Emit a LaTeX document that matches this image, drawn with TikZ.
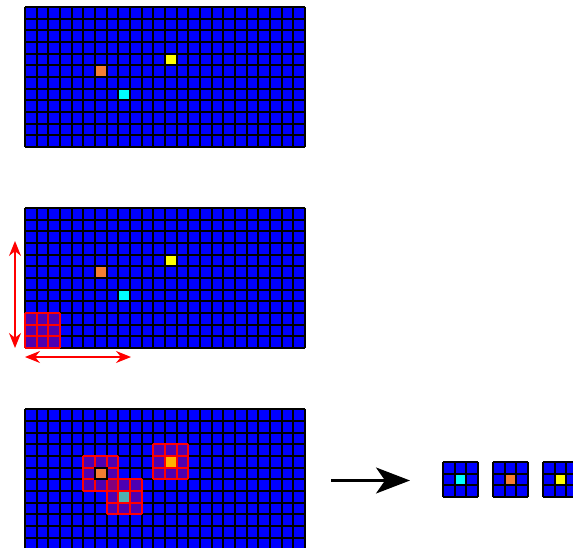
\documentclass[tikz,border=0pt]{standalone}
\usetikzlibrary{arrows.meta}
\definecolor{cellblue}{RGB}{0,0,255}
\definecolor{cellorange}{RGB}{245,125,50}
\definecolor{cellcyan}{RGB}{0,255,255}
\definecolor{cellyellow}{RGB}{255,255,0}
\tikzset{
  gridline/.style={black,line width=2pt},
  cellbox/.style={draw=black,line width=2pt},
  overlaybox/.style={fill=red,fill opacity=0.3},
  overlayline/.style={red,line width=2pt},
  redarrow/.style={red,line width=1.3pt,{Stealth[length=15pt,width=12pt]}-{Stealth[length=15pt,width=12pt]}},
  bigarrow/.style={black,line width=2.5pt,-{Stealth[length=34pt,width=26pt,inset=9pt]}}
}
\newcommand\drawgrid[2]{%
  \fill[cellblue] (0,0) rectangle (#1,#2);
  \foreach \i in {0,...,#1} \draw[gridline] (\i,0) -- (\i,#2);
  \foreach \j in {0,...,#2} \draw[gridline] (0,\j) -- (#1,\j);
}
\newcommand\drawcell[3]{\fill[#3,cellbox] (#1,#2) rectangle ++(1,1);}
\newcommand\drawoverlay[2]{%
  \fill[overlaybox] (#1,#2) rectangle ++(3,3);
  \foreach \k in {0,...,3} {\draw[overlayline] (#1+\k,#2) -- ++(0,3); \draw[overlayline] (#1,#2+\k) -- ++(3,0);}
}
\begin{document}
\begin{tikzpicture}[x=1pt,y=-1pt]
\useasboundingbox (0,0) rectangle (573,548);
\fill[white] (0,0) rectangle (573,548);
% grid 1
\begin{scope}[shift={(25pt,-7pt)},x=11.667pt,y=-11.667pt]
  \drawgrid{24}{12}
  \drawcell{6}{5}{cellorange}
  \drawcell{8}{7}{cellcyan}
  \drawcell{12}{4}{cellyellow}
\end{scope}
% grid 2
\begin{scope}[shift={(25pt,-208pt)},x=11.667pt,y=-11.667pt]
  \drawgrid{24}{12}
  \drawcell{6}{5}{cellorange}
  \drawcell{8}{7}{cellcyan}
  \drawcell{12}{4}{cellyellow}
  \drawoverlay{0}{9}
\end{scope}
\coordinate (vtop) at (15,241);
\coordinate (vbot) at (15,348);
\coordinate (hleft) at (25,357);
\coordinate (hright) at (131,357);
\draw[redarrow] (vtop) -- (vbot);
\draw[redarrow] (hleft) -- (hright);
% grid 3
\begin{scope}[shift={(25pt,-409.3pt)},x=11.667pt,y=-11.667pt]
  \drawgrid{24}{12}
  \drawcell{8}{7}{cellcyan}
  \drawcell{12}{4}{cellyellow}
  \drawoverlay{5}{4}
  \drawoverlay{7}{6}
  \drawoverlay{11}{3}
  \drawcell{6}{5}{cellorange}
\end{scope}
\coordinate (astart) at (331,480.5);
\coordinate (aend) at (410,480.5);
\draw[bigarrow] (astart) -- (aend);
% patches
\begin{scope}[shift={(443pt,-462pt)},x=11.667pt,y=-11.667pt]
  \drawgrid{3}{3}
  \drawcell{1}{1}{cellcyan}
\end{scope}
\begin{scope}[shift={(493pt,-462pt)},x=11.667pt,y=-11.667pt]
  \drawgrid{3}{3}
  \drawcell{1}{1}{cellorange}
\end{scope}
\begin{scope}[shift={(543pt,-462pt)},x=11.667pt,y=-11.667pt]
  \drawgrid{3}{3}
  \drawcell{1}{1}{cellyellow}
\end{scope}
\end{tikzpicture}
\end{document}
